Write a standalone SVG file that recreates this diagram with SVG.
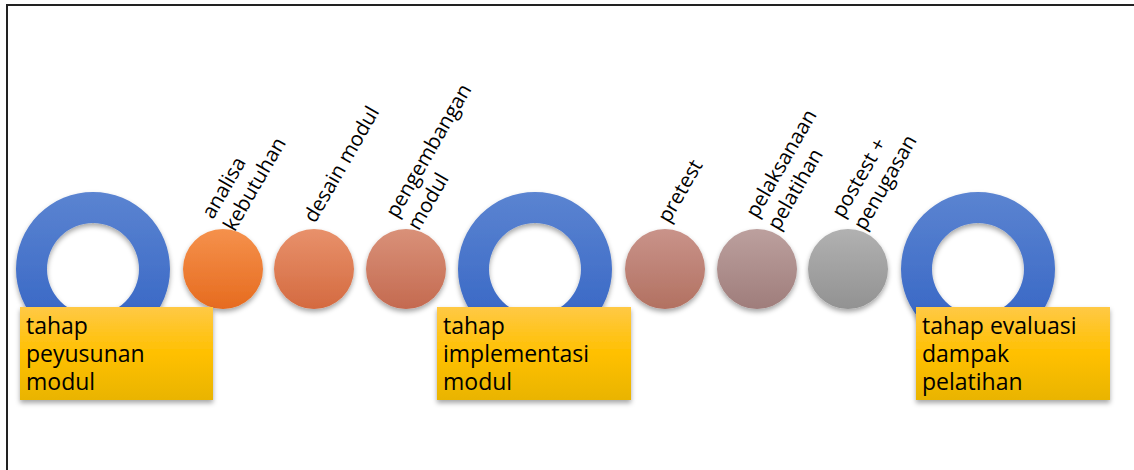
<svg xmlns="http://www.w3.org/2000/svg" width="1134" height="470" viewBox="0 0 1134 470">
<style>
.lbl{font-family:"Open Sans","Liberation Sans",sans-serif;font-size:20.5px;fill:#000}
.box{font-family:"Open Sans","Liberation Sans",sans-serif;font-size:23px;fill:#000}
.frame{stroke:#222;stroke-width:2;fill:none}
</style>
<defs>
<linearGradient id="gRing" x1="0" y1="0" x2="0" y2="1"><stop offset="0" stop-color="#5B84D1"/><stop offset="1" stop-color="#3262C3"/></linearGradient>
<linearGradient id="gBox" x1="0" y1="0" x2="0" y2="1"><stop offset="0" stop-color="#FFC945"/><stop offset="0.5" stop-color="#FFC000"/><stop offset="1" stop-color="#E9B400"/></linearGradient>
<linearGradient id="c1" x1="0" y1="0" x2="0" y2="1"><stop offset="0" stop-color="#F5914C"/><stop offset="1" stop-color="#E66B1F"/></linearGradient>
<linearGradient id="c2" x1="0" y1="0" x2="0" y2="1"><stop offset="0" stop-color="#E8916B"/><stop offset="1" stop-color="#D46A40"/></linearGradient>
<linearGradient id="c3" x1="0" y1="0" x2="0" y2="1"><stop offset="0" stop-color="#D99179"/><stop offset="1" stop-color="#C46A50"/></linearGradient>
<linearGradient id="c4" x1="0" y1="0" x2="0" y2="1"><stop offset="0" stop-color="#C9938A"/><stop offset="1" stop-color="#B27161"/></linearGradient>
<linearGradient id="c5" x1="0" y1="0" x2="0" y2="1"><stop offset="0" stop-color="#BCA09E"/><stop offset="1" stop-color="#9F7D7B"/></linearGradient>
<linearGradient id="c6" x1="0" y1="0" x2="0" y2="1"><stop offset="0" stop-color="#B1B1B1"/><stop offset="1" stop-color="#929292"/></linearGradient>
<filter id="sh" x="-20%" y="-20%" width="140%" height="150%"><feDropShadow dx="0" dy="3" stdDeviation="2.5" flood-color="#000" flood-opacity="0.35"/></filter>
<path id="ring" d="M-77,0 A77,77 0 1,0 77,0 A77,77 0 1,0 -77,0 Z M-46,0 A46,46 0 1,1 46,0 A46,46 0 1,1 -46,0 Z" fill="url(#gRing)" fill-rule="evenodd"/>
</defs>
<g id="frame"><path class="frame" d="M7,471 V5 H1136"/></g>
<g id="connectors"></g>
<g id="ring1" filter="url(#sh)"><use href="#ring" x="93" y="269"/></g>
<g id="ring2" filter="url(#sh)"><use href="#ring" x="535" y="269"/></g>
<g id="ring3" filter="url(#sh)"><use href="#ring" x="978" y="269"/></g>
<g id="n-analisa"><circle cx="223" cy="269" r="40" fill="url(#c1)" filter="url(#sh)"/>
<text class="lbl" transform="translate(213,220) rotate(-60)"><tspan x="0" y="0">analisa</tspan><tspan x="0" y="25">kebutuhan</tspan></text></g>
<g id="n-desain"><circle cx="314" cy="269" r="40" fill="url(#c2)" filter="url(#sh)"/>
<text class="lbl" transform="translate(315,224) rotate(-60)">desain modul</text></g>
<g id="n-pengembangan"><circle cx="406" cy="269" r="40" fill="url(#c3)" filter="url(#sh)"/>
<text class="lbl" transform="translate(397,219) rotate(-60)"><tspan x="0" y="0">pengembangan</tspan><tspan x="0" y="25">modul</tspan></text></g>
<g id="n-pretest"><circle cx="665" cy="269" r="40" fill="url(#c4)" filter="url(#sh)"/>
<text class="lbl" transform="translate(669,224) rotate(-60)">pretest</text></g>
<g id="n-pelaksanaan"><circle cx="757" cy="269" r="40" fill="url(#c5)" filter="url(#sh)"/>
<text class="lbl" transform="translate(757,219) rotate(-60)"><tspan x="0" y="0">pelaksanaan</tspan><tspan x="0" y="25">pelatihan</tspan></text></g>
<g id="n-postest"><circle cx="848" cy="269" r="40" fill="url(#c6)" filter="url(#sh)"/>
<text class="lbl" transform="translate(843,219) rotate(-60)"><tspan x="0" y="0">postest +</tspan><tspan x="0" y="25">penugasan</tspan></text></g>
<g id="box1"><rect x="20" y="307" width="193" height="93" fill="url(#gBox)" filter="url(#sh)"/>
<text class="box"><tspan x="26" y="334">tahap</tspan><tspan x="26" y="362">peyusunan</tspan><tspan x="26" y="390">modul</tspan></text></g>
<g id="box2"><rect x="437" y="307" width="194" height="93" fill="url(#gBox)" filter="url(#sh)"/>
<text class="box"><tspan x="443" y="334">tahap</tspan><tspan x="443" y="362">implementasi</tspan><tspan x="443" y="390">modul</tspan></text></g>
<g id="box3"><rect x="916" y="307" width="194" height="93" fill="url(#gBox)" filter="url(#sh)"/>
<text class="box"><tspan x="922" y="334">tahap evaluasi</tspan><tspan x="922" y="362">dampak</tspan><tspan x="922" y="390">pelatihan</tspan></text></g>
</svg>
